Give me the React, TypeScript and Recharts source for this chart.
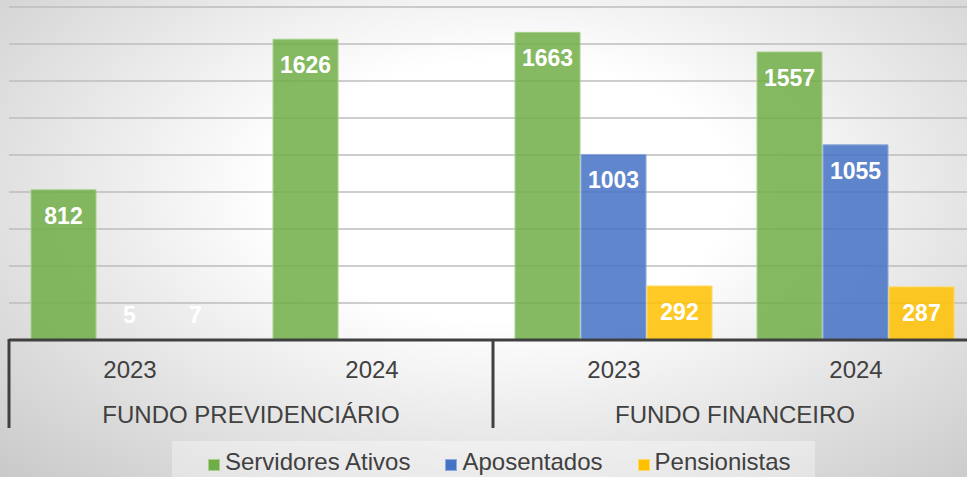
import { Bar, BarChart, CartesianGrid, Cell, LabelList, Legend, XAxis, YAxis } from 'recharts';

const years = ['2023', '2024', '2023', '2024'];
const groups = ['FUNDO PREVIDENCIÁRIO', 'FUNDO PREVIDENCIÁRIO', 'FUNDO FINANCEIRO', 'FUNDO FINANCEIRO'];
const servidoresAtivos = [812, 1626, 1663, 1557];
const aposentados: (number | null)[] = [5, null, 1003, 1055];
const pensionistas: (number | null)[] = [7, null, 292, 287];
const yTicks = [0, 200, 400, 600, 800, 1000, 1200, 1400, 1600, 1800];

const series = [
  { key: 'ativos', name: 'Servidores Ativos', fill: '#70ad47', stroke: '#a9d18e' },
  { key: 'aposentados', name: 'Aposentados', fill: '#4472c4', stroke: '#8faadc' },
  { key: 'pensionistas', name: 'Pensionistas', fill: '#ffc000', stroke: '#ffd966' },
];

const data = years.map((year, i) => ({
  year,
  group: groups[i],
  ativos: servidoresAtivos[i],
  aposentados: aposentados[i],
  pensionistas: pensionistas[i],
}));

const FONT = '"Liberation Sans", Arial, sans-serif';
const AXIS_COLOR = '#404040';

function BarValue(props: any) {
  const { x, y, width, height, value } = props;
  if (value == null) return null;
  const bottom = y + height;
  const cy = Math.min(y + 26, bottom - 25);
  return (
    <text x={x + width / 2} y={cy} textAnchor="middle" dominantBaseline="central"
      fill="#fff" fontWeight="bold" fontSize={23} fontFamily={FONT}>
      {value}
    </text>
  );
}

function YearTick(props: any) {
  const { x, y, payload } = props;
  return (
    <text x={x} y={y + 38} textAnchor="middle" fill={AXIS_COLOR} fontSize={24} fontFamily={FONT}>
      {payload.value}
    </text>
  );
}

function GroupTick(props: any) {
  const { x, y, payload, index, visibleTicksCount } = props;
  const half = payload.offset ?? 0;
  const last = index === (visibleTicksCount ?? 2) - 1;
  return (
    <g>
      <line x1={x - half} x2={x - half} y1={y - 45} y2={y + 44} stroke={AXIS_COLOR} strokeWidth={3} />
      {last && <line x1={x + half} x2={x + half} y1={y - 45} y2={y + 44} stroke={AXIS_COLOR} strokeWidth={3} />}
      <text x={x} y={y + 39} textAnchor="middle" fill={AXIS_COLOR} fontSize={24} fontFamily={FONT}>
        {payload.value}
      </text>
    </g>
  );
}

function LegendBox() {
  return (
    <div style={{
      display: 'flex', alignItems: 'center', height: 40, boxSizing: 'border-box',
      paddingLeft: 36, paddingTop: 2, background: 'rgba(255,255,255,0.35)',
      fontFamily: FONT, fontSize: 24, color: AXIS_COLOR, whiteSpace: 'nowrap',
    }}>
      {series.map((s) => (
        <div key={s.key} style={{ display: 'flex', alignItems: 'center', marginRight: 35 }}>
          <span style={{
            display: 'inline-block', width: 10, height: 10, background: s.fill,
            border: `1px solid ${s.stroke}`, marginRight: 5, marginTop: 6,
          }} />
          <span>{s.name}</span>
        </div>
      ))}
    </div>
  );
}

export default function App() {
  return (
    <div style={{
      position: 'absolute', left: 0, top: 0, width: 967, height: 477, overflow: 'hidden',
      background: 'radial-gradient(ellipse at 52% 40%, #ffffff 32%, #c9c9c9 100%)',
    }}>
      <BarChart width={980} height={477} data={data}
        margin={{ top: 7, right: 3, left: 9, bottom: 49 }}
        barCategoryGap="9.1%" barGap={1}>
        <CartesianGrid vertical={false} stroke="#bcbcbc" strokeWidth={1.6} />
        <YAxis hide domain={[0, 1800]} ticks={yTicks} />
        <XAxis xAxisId="b" dataKey="group" allowDuplicatedCategory={false} interval={0} height={44}
          axisLine={false} tickLine={false} tickSize={0} tickMargin={0} tick={<GroupTick />} />
        <XAxis xAxisId="a" dataKey="year" interval={0} height={44}
          axisLine={{ stroke: AXIS_COLOR, strokeWidth: 3 }} tickLine={false} tickSize={0} tickMargin={0}
          tick={<YearTick />} />
        {series.map((s) => (
          <Bar key={s.key} xAxisId="a" dataKey={s.key} name={s.name} fill={s.fill} fillOpacity={0.85}
            stroke={s.stroke} strokeWidth={1} isAnimationActive={false}>
            {data.map((d, i) => {
              const v = (d as any)[s.key];
              const tiny = v != null && v < 20;
              return <Cell key={i} stroke={tiny ? 'none' : s.stroke} fillOpacity={tiny ? 0 : 0.85} />;
            })}
            <LabelList dataKey={s.key} content={<BarValue />} />
          </Bar>
        ))}
        <Legend layout="horizontal" verticalAlign="middle" align="center"
          wrapperStyle={{ top: 441, left: 172, width: 643, height: 40 }}
          content={<LegendBox />} />
      </BarChart>
    </div>
  );
}
